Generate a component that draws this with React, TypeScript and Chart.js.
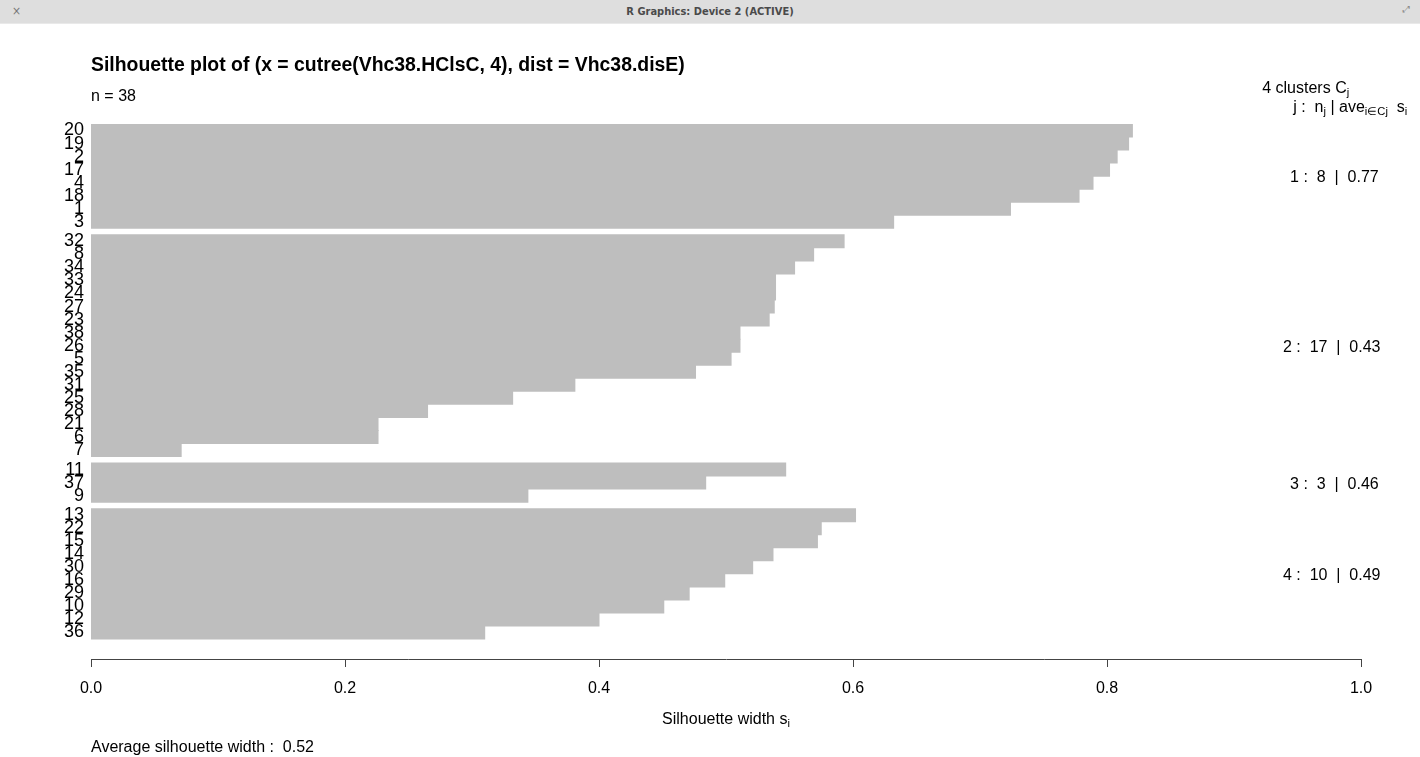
import React, { useEffect, useRef } from "react";
import { Chart, registerables } from "chart.js";

Chart.register(...registerables);

// Silhouette widths per cluster, in the order the rows are drawn (top to bottom)
const cluster1Labels = ["20", "19", "2", "17", "4", "18", "1", "3"];
const cluster1Widths = [0.82, 0.817, 0.808, 0.802, 0.789, 0.778, 0.724, 0.632];

const cluster2Labels = ["32", "8", "34", "33", "24", "27", "23", "38", "26", "5", "35", "31", "25", "28", "21", "6", "7"];
const cluster2Widths = [0.593, 0.569, 0.554, 0.539, 0.539, 0.538, 0.534, 0.511, 0.511, 0.504, 0.476, 0.381, 0.332, 0.265, 0.226, 0.226, 0.071];

const cluster3Labels = ["11", "37", "9"];
const cluster3Widths = [0.547, 0.484, 0.344];

const cluster4Labels = ["13", "22", "15", "14", "30", "16", "29", "10", "12", "36"];
const cluster4Widths = [0.602, 0.575, 0.572, 0.537, 0.521, 0.499, 0.471, 0.451, 0.4, 0.31];

const clusterAverages = ["0.77", "0.43", "0.46", "0.49"];
const averageWidth = "0.52";
const xTickValues = [0, 0.2, 0.4, 0.6, 0.8, 1.0];

const clusters = [
  { labels: cluster1Labels, widths: cluster1Widths },
  { labels: cluster2Labels, widths: cluster2Widths },
  { labels: cluster3Labels, widths: cluster3Widths },
  { labels: cluster4Labels, widths: cluster4Widths },
];

// Row positions: one unit per observation, half a unit between clusters
const rows: { pos: number; label: string; width: number; cluster: number }[] = [];
{
  let idx = 0;
  clusters.forEach((c, ci) => {
    c.labels.forEach((lab, i) => {
      rows.push({ pos: idx + 0.5 + ci * 0.5, label: lab, width: c.widths[i], cluster: ci });
      idx++;
    });
  });
}
const labelByPos = new Map(rows.map((r) => [r.pos.toFixed(2), r.label]));

const FONT = "'Liberation Sans', Arial, Helvetica, sans-serif";
const NARROW = "'Liberation Sans Narrow', 'Liberation Sans', Arial, sans-serif";

type Run = { t: string; size: number; dy?: number; bold?: boolean };

function runsWidth(ctx: CanvasRenderingContext2D, runs: Run[]) {
  let total = 0;
  for (const r of runs) {
    ctx.font = `${r.bold ? "bold " : ""}${r.size}px ${FONT}`;
    total += ctx.measureText(r.t).width;
  }
  return total;
}

// Draws a sequence of text runs; adj works like R's adj (0 = left, 1 = right)
function drawRuns(ctx: CanvasRenderingContext2D, x: number, y: number, runs: Run[], adj = 0) {
  const total = runsWidth(ctx, runs);
  let cx = x - adj * total;
  ctx.textAlign = "left";
  ctx.textBaseline = "alphabetic";
  for (const r of runs) {
    ctx.font = `${r.bold ? "bold " : ""}${r.size}px ${FONT}`;
    ctx.fillText(r.t, cx, y + (r.dy || 0));
    cx += ctx.measureText(r.t).width;
  }
}

const SUB = 11.2;

const annotations = {
  id: "silhouetteText",
  afterDraw(chart: any) {
    const ctx: CanvasRenderingContext2D = chart.ctx;
    const xs = chart.scales.x;
    const ys = chart.scales.y;
    const left = xs.getPixelForValue(0);
    const right = xs.getPixelForValue(1);
    const span = right - left;
    ctx.save();
    ctx.fillStyle = "#000";

    drawRuns(ctx, left, 71, [{ t: "Silhouette plot of (x = cutree(Vhc38.HClsC, 4), dist = Vhc38.disE)", size: 19.4, bold: true }]);
    drawRuns(ctx, left, 101, [{ t: "n = 38", size: 16 }]);

    drawRuns(ctx, left + 0.99 * span, 93, [
      { t: "4 clusters C", size: 16 },
      { t: "j", size: SUB, dy: 3 },
    ], 0.99);
    drawRuns(ctx, left + 1.04 * span, 112, [
      { t: "j :  n", size: 16 },
      { t: "j", size: SUB, dy: 3 },
      { t: " | ave", size: 16 },
      { t: "i\u2208Cj", size: SUB, dy: 3 },
      { t: "  s", size: 16 },
      { t: "i", size: SUB, dy: 3 },
    ], 1.04);

    clusters.forEach((c, ci) => {
      const ps = rows.filter((r) => r.cluster === ci).map((r) => r.pos);
      const mid = (ps[0] + ps[ps.length - 1]) / 2;
      const y = ys.getPixelForValue(mid) + 6;
      drawRuns(ctx, right, y, [{ t: `${ci + 1} :  ${c.labels.length}  |  ${clusterAverages[ci]}`, size: 16 }], 0.8);
    });

    // x axis title with subscript, centred under the plot region
    drawRuns(ctx, (left + right) / 2, 724, [
      { t: "Silhouette width s", size: 16 },
      { t: "i", size: SUB, dy: 3 },
    ], 0.5);

    drawRuns(ctx, left, 752, [{ t: `Average silhouette width :  ${averageWidth}`, size: 16 }]);
    ctx.restore();
  },
};

export default function App() {
  const canvasRef = useRef<HTMLCanvasElement | null>(null);

  useEffect(() => {
    document.body.style.margin = "0";
    const canvas = canvasRef.current;
    if (!canvas) return;
    const chart = new Chart(canvas, {
      type: "bar",
      data: {
        datasets: [
          {
            data: rows.map((r) => ({ x: r.width, y: r.pos })),
            backgroundColor: "#bebebe",
            borderWidth: 0,
            barPercentage: 1,
            categoryPercentage: 1,
            inflateAmount: 0.5,
          } as any,
        ],
      },
      options: {
        indexAxis: "y",
        animation: false,
        responsive: false,
        devicePixelRatio: 1,
        layout: { padding: { left: 0, right: 59, top: 124, bottom: 58 } },
        plugins: {
          legend: { display: false },
          tooltip: { enabled: false },
          title: { display: false },
        },
        scales: {
          x: {
            type: "linear",
            position: "bottom",
            min: 0,
            max: 1,
            offset: false,
            grid: { drawOnChartArea: false, drawTicks: true, tickLength: 8, color: "#444", lineWidth: 1, offset: false },
            border: { display: true, color: "#444", width: 1 },
            ticks: {
              color: "#000",
              font: { family: FONT, size: 16 },
              padding: 12,
              maxRotation: 0,
              callback: (v: any) => Number(v).toFixed(1),
            },
            afterBuildTicks: (scale: any) => {
              scale.ticks = xTickValues.map((value) => ({ value }));
            },
            afterFit: (scale: any) => {
              scale.height = 40;
            },
          },
          y: {
            type: "linear",
            reverse: true,
            min: 0,
            max: 41.03,
            offset: false,
            grid: { display: false, drawTicks: false, offset: false },
            border: { display: false },
            ticks: {
              autoSkip: false,
              color: "#000",
              font: { family: NARROW, size: 18 },
              padding: 7,
              callback: (v: any) => labelByPos.get(Number(v).toFixed(2)) ?? "",
            },
            afterBuildTicks: (scale: any) => {
              scale.ticks = rows.map((r) => ({ value: r.pos }));
            },
            afterFit: (scale: any) => {
              scale.width = 91;
              scale.paddingTop = 0;
              scale.paddingBottom = 0;
            },
          },
        },
      } as any,
      plugins: [annotations],
    });
    return () => chart.destroy();
  }, []);

  return (
    <div style={{ position: "relative", width: 1420, height: 757, background: "#fff", overflow: "hidden" }}>
      <canvas ref={canvasRef} width={1420} height={757} style={{ display: "block", width: 1420, height: 757 }} />
      <div
        style={{
          position: "absolute",
          left: 0,
          top: 0,
          width: 1420,
          height: 23,
          background: "#dedede",
          borderBottom: "1px solid #e9e9e9",
          fontFamily: "'DejaVu Sans Condensed', 'DejaVu Sans', sans-serif",
          fontSize: 11,
          fontWeight: "bold",
          color: "#4a4a4a",
          lineHeight: "23px",
          textAlign: "center",
        }}
      >
        <span style={{ position: "absolute", left: 12, top: 0, fontWeight: "normal", color: "#777", fontSize: 12 }}>×</span>
        R Graphics: Device 2 (ACTIVE)
        <span style={{ position: "absolute", right: 10, top: -2, fontWeight: "normal", color: "#888", fontSize: 9 }}>⤢</span>
      </div>
    </div>
  );
}
